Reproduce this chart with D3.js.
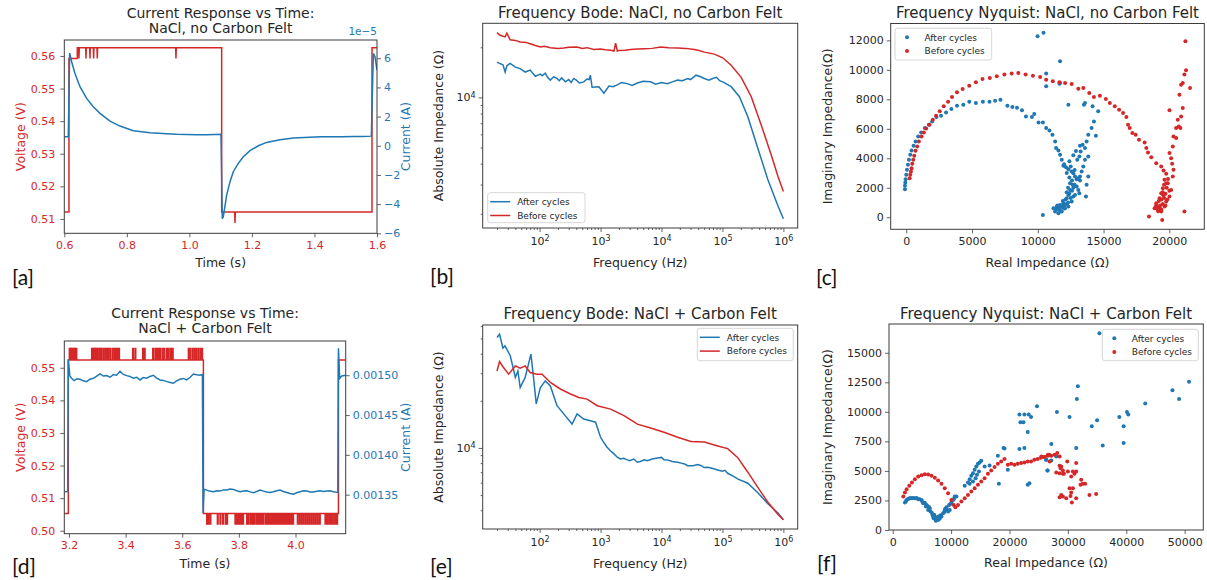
<!DOCTYPE html>
<html>
<head>
<meta charset="utf-8">
<script src="https://cdn.jsdelivr.net/npm/d3@7"></script>
<style>
  body { margin: 0; background: #fff; }
</style>
</head>
<body>
<svg id="fig" width="1207" height="580"></svg>
<script>
// ---------- values ----------

// [a] NaCl, no carbon felt : time (s), voltage (V) / current (A)
const aVoltage = [
  [0.6, 0.5121], [0.6149, 0.5121], [0.6149, 0.5592], [0.6416, 0.5592], [0.6416, 0.5625],
  [0.6459, 0.5625], [0.6469, 0.5592], [0.6479, 0.5625],
  [0.6683, 0.5625], [0.6693, 0.5592], [0.6703, 0.5625],
  [0.6811, 0.5625], [0.6821, 0.5592], [0.6831, 0.5625],
  [0.6928, 0.5625], [0.6938, 0.5592], [0.6948, 0.5625],
  [0.7045, 0.5625], [0.7055, 0.5592], [0.7065, 0.5625],
  [0.9561, 0.5625], [0.9571, 0.5592], [0.9581, 0.5625],
  [1.1032, 0.5625], [1.1032, 0.5121],
  [1.1448, 0.5121], [1.1458, 0.5088], [1.1468, 0.5121],
  [1.5840, 0.5121], [1.5840, 0.5625], [1.6, 0.5625]
]
const aCurrent = [
  [0.6, 0.62e-5], [0.6128, 0.62e-5], [0.6171, 6.35e-5], [0.6235, 5.76e-5], [0.6341, 4.96e-5],
  [0.6501, 4.05e-5], [0.6714, 3.25e-5], [0.6927, 2.67e-5], [0.7141, 2.22e-5], [0.7461, 1.69e-5],
  [0.7780, 1.35e-5], [0.8207, 1.03e-5], [0.8740, 0.89e-5], [0.9273, 0.82e-5], [0.9600, 0.79e-5],
  [0.9913, 0.78e-5], [1.0250, 0.76e-5], [1.0552, 0.75e-5], [1.0800, 0.77e-5], [1.1011, 0.78e-5],
  [1.1053, -5.0e-5], [1.1085, -4.87e-5], [1.1192, -3.38e-5],
  [1.1299, -2.47e-5], [1.1405, -1.78e-5], [1.1565, -1.21e-5], [1.1725, -0.75e-5], [1.1938, -0.34e-5],
  [1.2205, 0.0], [1.2471, 0.23e-5], [1.2898, 0.41e-5], [1.3324, 0.53e-5], [1.3857, 0.59e-5],
  [1.4200, 0.61e-5], [1.4603, 0.62e-5], [1.4900, 0.62e-5], [1.5243, 0.64e-5], [1.5550, 0.63e-5],
  [1.5819, 0.66e-5], [1.5883, 6.33e-5], [1.5936, 6.10e-5], [1.6, 5.19e-5]
]

// [d] NaCl + carbon felt
const dVoltage = [
  [3.1834, 0.5053], [3.1976, 0.5053], [3.1976, 0.5524], [3.6747, 0.5524],
  [3.6747, 0.5053], [4.1517, 0.5053], [4.1517, 0.5524], [4.1773, 0.5524]
]
const dLevels = { high: 0.5524, highSpike: 0.5559, low: 0.5053, lowSpike: 0.5021 }
const dFlickerUp = [
  3.2012, 3.2059, 3.2106, 3.2153, 3.2200, 3.2247, 3.2801, 3.2860, 3.2907, 3.2954, 3.3001,
  3.3060, 3.3095, 3.3142, 3.3213, 3.3272, 3.3331, 3.3390, 3.3449, 3.3531, 3.3590, 3.3649,
  3.3708, 3.3755, 3.4250, 3.4332, 3.4603, 3.4662, 3.4957, 3.5039, 3.5098, 3.5169, 3.5216,
  3.5298, 3.5357, 3.5451, 3.5510, 3.5592, 3.5651, 3.6217, 3.6276, 3.6358, 3.6429, 3.6488,
  3.6558, 3.6629, 3.6688
]
const dFlickerDown = [
  3.6865, 3.6923, 3.6982, 3.7241, 3.7336, 3.7430, 3.7524, 3.7571, 3.7866, 3.7925, 3.7995,
  3.8066, 3.8137, 3.8278, 3.8337, 3.8419, 3.8490, 3.8549, 3.8631, 3.8702, 3.8773, 3.8843,
  3.8926, 3.8985, 3.9055, 3.9126, 3.9197, 3.9267, 3.9338, 3.9409, 3.9479, 3.9550, 3.9621,
  3.9691, 3.9762, 3.9833, 3.9903, 4.0068, 4.0139, 4.0210, 4.0280, 4.0351, 4.0422, 4.0492,
  4.0563, 4.0634, 4.0704, 4.0775, 4.0846, 4.1046, 4.1105, 4.1176, 4.1246, 4.1317, 4.1388,
  4.1458
]
const dCurrent = [
  [3.1834, 0.0013537], [3.1953, 0.0013540], [3.1976, 0.0015200], [3.2030, 0.0014990],
  [3.2094, 0.0014962], [3.2177, 0.0014932], [3.2280, 0.0014955], [3.2389, 0.0014949],
  [3.2500, 0.0014930], [3.2624, 0.0014920], [3.2740, 0.0014950], [3.2860, 0.0014962],
  [3.2980, 0.0014990], [3.3095, 0.0015016], [3.3210, 0.0014990], [3.3331, 0.0014995],
  [3.3450, 0.0014975], [3.3567, 0.0015008], [3.3680, 0.0015000], [3.3802, 0.0015050],
  [3.3920, 0.0015010], [3.4038, 0.0014995], [3.4150, 0.0014985], [3.4273, 0.0014962],
  [3.4390, 0.0014975], [3.4509, 0.0014941], [3.4620, 0.0014970], [3.4744, 0.0014962],
  [3.4860, 0.0014985], [3.4980, 0.0015000], [3.5100, 0.0014965], [3.5216, 0.0014941],
  [3.5330, 0.0014935], [3.5451, 0.0014920], [3.5570, 0.0014910], [3.5687, 0.0014899],
  [3.5800, 0.0014930], [3.5922, 0.0014949], [3.6040, 0.0014960], [3.6158, 0.0014941],
  [3.6280, 0.0014975], [3.6393, 0.0015016], [3.6510, 0.0015005], [3.6629, 0.0015000],
  [3.6711, 0.0015008], [3.6735, 0.0013270], [3.6770, 0.0013566], [3.6806, 0.0013566],
  [3.6950, 0.0013545], [3.7100, 0.0013537], [3.7220, 0.0013550], [3.7336, 0.0013545],
  [3.7450, 0.0013560], [3.7571, 0.0013558], [3.7690, 0.0013570], [3.7807, 0.0013566],
  [3.7920, 0.0013550], [3.8042, 0.0013537], [3.8160, 0.0013545], [3.8278, 0.0013549],
  [3.8400, 0.0013535], [3.8514, 0.0013524], [3.8630, 0.0013540], [3.8749, 0.0013558],
  [3.8870, 0.0013545], [3.8985, 0.0013533], [3.9100, 0.0013528], [3.9220, 0.0013537],
  [3.9340, 0.0013550], [3.9456, 0.0013558], [3.9570, 0.0013540], [3.9691, 0.0013528],
  [3.9810, 0.0013515], [3.9927, 0.0013507], [4.0040, 0.0013525], [4.0163, 0.0013537],
  [4.0280, 0.0013548], [4.0398, 0.0013545], [4.0520, 0.0013535], [4.0634, 0.0013533],
  [4.0750, 0.0013542], [4.0869, 0.0013549], [4.0990, 0.0013540], [4.1105, 0.0013545],
  [4.1220, 0.0013550], [4.1340, 0.0013537], [4.1494, 0.0013528], [4.1517, 0.0015340],
  [4.1560, 0.0014960], [4.1635, 0.0014990], [4.1773, 0.0015000]
]

// [b] Bode, no carbon felt : frequency (Hz), |Z| (ohm)
const bodeNoFeltAfter = [
  [20, 16300], [22, 16000], [25, 15700], [27.2, 14200], [29, 15500], [32.8, 16000], [40, 15200],
  [48, 14900], [58, 14200], [70, 14600], [85, 13400], [103, 13800], [110, 13500], [124, 14000],
  [135, 13200], [150, 12700], [170, 13300], [193, 13000], [210, 12600], [230, 13100], [265, 12400],
  [300, 12800], [330, 12300], [363, 13000], [400, 12700], [450, 12200], [530, 12400], [600, 12900],
  [650, 12800], [680, 13600], [726, 11500], [940, 11600], [1135, 10600], [1373, 11700],
  [1600, 11600], [1884, 11900], [2200, 12300], [2748, 12100], [3300, 11800], [4020, 12200],
  [5000, 12500], [6640, 12400], [8000, 12000], [10000, 12300], [12500, 12100], [15000, 12400],
  [18400, 12700], [22000, 12600], [26900, 13000], [30000, 12800], [36900, 13600], [44000, 13300],
  [50500, 13000], [60000, 12700], [69300, 13000], [80000, 13200], [90000, 12600], [101000, 12400],
  [139000, 11600], [190000, 10100], [261000, 7660], [381000, 4950], [557000, 3200], [816000, 2230],
  [1000000, 1870]
]
const bodeNoFeltBefore = [
  [20, 24500], [22.5, 23600], [27.2, 23100], [29, 24300], [32.8, 22200], [40, 22000], [48, 21500],
  [60, 21400], [70, 21000], [85, 20500], [103, 20100], [120, 20300], [150, 19900], [200, 19700],
  [249, 19800], [300, 20000], [412, 20100], [500, 19700], [600, 19900], [776, 19400], [1000, 19500],
  [1200, 19300], [1462, 19200], [1660, 19000], [1766, 21200], [1883, 19000], [2004, 19100],
  [2500, 19200], [3124, 19400], [4000, 19500], [5176, 19600], [7000, 19700], [9750, 20100],
  [13000, 19900], [18400, 19800], [25000, 19700], [34500, 19400], [40000, 19200], [50500, 18700],
  [73800, 18200], [101000, 17300], [139000, 15600], [203000, 13200], [297000, 10100], [434000, 6800],
  [634000, 4500], [816000, 3350], [1000000, 2720]
]

// [e] Bode, carbon felt
const bodeFeltAfter = [
  [20, 50700], [22, 53200], [25, 43400], [27, 44900], [33, 38800], [40, 28200], [44, 31000],
  [48, 24300], [58, 28200], [72, 39700], [80, 27500], [88, 19100], [103, 24300], [124, 26800],
  [150, 24900], [193, 18600], [249, 16500], [341, 14200], [412, 16500], [530, 15300], [680, 14900],
  [829, 14600], [1000, 11700], [1100, 11000], [1280, 10100], [1450, 9600], [1660, 9160],
  [1900, 8700], [2130, 8510], [2400, 8600], [2748, 8390], [3000, 8300], [3500, 8500], [4020, 8100],
  [4500, 8200], [5200, 8400], [5880, 8300], [7000, 8500], [8600, 8630], [10000, 8700], [11000, 8400],
  [12500, 8390], [15000, 8200], [18400, 8100], [21000, 8000], [24000, 7900], [26900, 7710],
  [33000, 7700], [39300, 7830], [45000, 7700], [50000, 7500], [57500, 7520], [70000, 7400],
  [83600, 7240], [100000, 7100], [110000, 7200], [122000, 6890], [150000, 6600], [177000, 6350],
  [261000, 5950], [381000, 5180], [557000, 4400], [816000, 3840], [1000000, 3480]
]
const bodeFeltBefore = [
  [20, 31000], [22, 35600], [25, 33000], [31, 29600], [40, 33400], [48, 32300], [58, 33400],
  [70, 30300], [90, 29600], [110, 29600], [150, 26200], [219, 23800], [321, 22100], [440, 21000],
  [603, 20500], [881, 18600], [1462, 17700], [2420, 16100], [4020, 14200], [6640, 13400],
  [11000, 12600], [18400, 11700], [30400, 11000], [50500, 10900], [83600, 10300], [122000, 9900],
  [177000, 8700], [261000, 7000], [381000, 5600], [557000, 4500], [816000, 3760], [1000000, 3480]
]

// [c] Nyquist, no carbon felt : real (ohm), imaginary (ohm)
const nyqNoFeltAfter = [
  [-98, 1904], [-98, 2128], [-73, 2353], [-48, 2584], [2, 2876], [53, 3216], [129, 3556], [204, 3896],
  [305, 4236], [406, 4529], [557, 4848], [708, 5141], [910, 5481], [1136, 5753], [1414, 6052],
  [1716, 6276], [1968, 6501], [2296, 6800], [2648, 6888], [3026, 7113], [3430, 7344], [3858, 7568],
  [4337, 7636], [4791, 7840], [5294, 7752], [5824, 7840], [6328, 7840], [6756, 7908], [7159, 7976],
  [7688, 7568], [8066, 7480], [8420, 7432], [8798, 7251], [9100, 6841], [9553, 6798], [9730, 7002],
  [10057, 6435], [10385, 6435], [10637, 6050], [10889, 5891], [11115, 5596], [11317, 5143],
  [11393, 4690], [11569, 4531], [11695, 4236], [11822, 3896], [11947, 3488], [12149, 3398],
  [12325, 3262], [12502, 3443], [12577, 3103], [12703, 2990], [12829, 2763], [12955, 2582],
  [13081, 2650], [13207, 2491], [12653, 2196], [12451, 1856], [12325, 1516], [12199, 1290],
  [11947, 950], [11695, 836], [11443, 723], [11191, 610], [11317, 383], [11569, 270], [11822, 383],
  [12073, 610], [12325, 723], [12577, 1063], [12703, 1403], [12829, 1516], [12451, 2310],
  [12955, 2083], [13081, 1856], [13157, 1630], [11400, 500], [11600, 600], [11800, 700], [12000, 800],
  [12200, 900], [11900, 1100], [12100, 1200], [12300, 1000], [12500, 1300], [12400, 1600],
  [12600, 1800], [12200, 1700], [12000, 600], [11700, 450], [11500, 800], [12700, 2000], [12300, 2000],
  [12600, 2500], [12400, 2700], [12800, 3200], [12200, 3000], [12000, 3600], [12400, 3800],
  [13000, 3900], [12900, 4500], [12700, 4200], [12800, 2200], [13207, 2763], [13333, 3103],
  [13459, 3443], [13157, 4123], [13258, 4463], [13409, 4916], [13207, 4848], [13585, 4690],
  [13711, 5143], [13837, 5596], [13837, 4123], [13585, 3896], [14089, 6050], [14266, 6503],
  [14417, 5528], [14593, 7183], [14165, 7523], [13510, 7636], [13585, 7750], [12325, 7636],
  [10637, 9744], [10637, 8883], [10435, 12510], [9982, 12283], [11695, 10583], [11695, 9110],
  [11645, 9064], [13661, 1403], [13711, 2196], [13837, 2763], [10385, 156]
]
const nyqNoFeltBefore = [
  [255, 2652], [305, 2879], [355, 3103], [406, 3330], [456, 3624], [531, 3896], [607, 4168],
  [708, 4508], [834, 4803], [960, 5143], [1162, 5483], [1338, 5755], [1514, 6027], [1767, 6276],
  [2019, 6616], [2270, 6888], [2548, 7183], [2850, 7523], [3178, 7840], [3480, 8158], [3858, 8475],
  [4287, 8702], [4791, 8928], [5294, 9155], [5798, 9382], [6353, 9450], [6882, 9563], [7462, 9676],
  [8016, 9744], [8520, 9790], [9074, 9676], [9629, 9608], [10183, 9518], [10637, 9336],
  [11141, 9223], [11645, 9155], [12073, 9110], [12577, 9042], [13081, 8724], [13459, 8770],
  [13913, 8430], [14266, 8158], [14719, 8248], [15173, 8022], [15476, 7750], [15854, 7523],
  [16181, 7296], [16484, 7070], [16736, 6798], [16862, 6276], [16988, 6050], [17189, 5710],
  [17441, 5596], [17693, 5256], [18122, 5075], [18248, 4690], [18374, 4395], [18626, 4078],
  [19004, 3670], [19382, 3443], [19559, 3171], [19760, 2944], [19634, 2536], [19760, 2310],
  [19508, 1970], [19382, 1630], [19256, 1290], [19004, 950], [18878, 610], [19130, 496],
  [19382, 383], [19634, 723], [19760, 1063], [20012, 1403], [20138, 1856], [19886, 2310],
  [20264, 2763], [20315, 3216], [20214, 3624], [20138, 4010], [20012, 4350], [20264, 4803],
  [20315, 5483], [20516, 6050], [20718, 6163], [20844, 6050], [20642, 6616], [20894, 6843],
  [21020, 7410], [20768, 8316], [20894, 8996], [21020, 9110], [21146, 9676], [21272, 9971],
  [21222, 11943], [21574, 8770], [21146, 383], [19458, -184], [18450, 43], [20012, 7251],
  [20516, 5370], [19100, 700], [19300, 800], [19500, 900], [19200, 1100], [19400, 1200],
  [19600, 1300], [19300, 600], [19700, 1600], [19500, 1700], [19800, 2000], [19600, 2200],
  [19900, 2600], [19400, 500], [19150, 400], [19550, 1500], [19700, 800], [19850, 1200],
  [20000, 1800], [19000, 800], [18950, 650]
]

// [f] Nyquist, carbon felt
const nyqFeltAfter = [
  [2097, 2320], [2300, 2450], [2381, 2547], [2600, 2620], [2836, 2660], [3000, 2700], [3291, 2689],
  [3500, 2700], [3802, 2689], [4100, 2700], [4370, 2604], [4600, 2600], [4939, 2547], [5000, 2450],
  [5223, 2264], [5500, 2300], [5678, 1981], [5792, 2123], [5900, 2050], [6075, 1698], [6200, 1950],
  [6360, 1840], [6473, 1556], [6700, 1450], [6814, 1274], [6928, 1132], [7000, 1000], [7100, 1300],
  [7212, 1132], [7300, 950], [7383, 792], [7496, 906], [7600, 1000], [7780, 849], [7800, 1150],
  [7951, 1075], [8064, 962], [8200, 1250], [8349, 1132], [8633, 1415], [8800, 1500], [8917, 1698],
  [9000, 1800], [9201, 1924], [9300, 1700], [9485, 1556], [9656, 2123], [9770, 1698], [9900, 2200],
  [10054, 2320], [10338, 2547], [10500, 2650], [10622, 2830], [10907, 2830],
  [12327, 3736], [12895, 4018], [13180, 4302], [13464, 4585], [13748, 4811], [14032, 5094],
  [14316, 5377], [14600, 5603], [14884, 5717], [15169, 5858], [13180, 3905], [13748, 4103],
  [14203, 4387], [14429, 4670], [14771, 4952], [15737, 5377], [16590, 5462], [18010, 6283],
  [18181, 3905], [18977, 6934], [19147, 6905], [19715, 5094], [21705, 6849], [22557, 6934],
  [21875, 9112], [22386, 9112], [21705, 9764], [22557, 9764], [23295, 9764], [23694, 9565],
  [23125, 8292], [24717, 10471], [23409, 3962], [23125, 3821], [26252, 5943], [26535, 5037],
  [35401, 16640], [31707, 12169], [31537, 11094], [28127, 9990], [30286, 9565], [34095, 8773],
  [35004, 9282], [38810, 9565], [40119, 9990], [40346, 9764], [39551, 8773], [39551, 7358],
  [35970, 7160], [31423, 6934], [27161, 7273], [28013, 6226], [26308, 5943], [27161, 5886],
  [26478, 5037], [43244, 10697], [47905, 11829], [49041, 11094], [50746, 12537]
]
const nyqFeltBefore = [
  [1812, 2830], [2097, 3169], [2381, 3453], [2836, 3736], [3291, 4018], [3802, 4302], [4370, 4528],
  [4939, 4641], [5507, 4726], [6075, 4698], [6644, 4585], [7212, 4415], [7780, 4188], [8349, 3905],
  [8917, 3538], [9485, 3113], [10054, 2547], [10452, 2123], [10736, 1924], [11190, 2123],
  [11759, 2405], [12327, 2689], [12895, 2972], [13464, 3254], [14032, 3538], [14600, 3821],
  [15169, 4103], [15737, 4387], [16305, 4754], [16874, 5037], [17442, 5321], [18010, 5603],
  [18579, 5801], [19147, 6000], [19715, 5519], [20284, 5603], [20852, 5519], [21420, 5603],
  [21989, 5660], [22557, 5717], [23125, 5801], [23694, 5801], [24262, 5943], [24830, 6000],
  [25399, 6113], [25967, 6170], [26535, 6283], [26819, 6368],
  [25456, 6226], [26024, 6170], [26592, 6368], [27161, 6283], [27729, 6368], [28184, 6509],
  [28582, 6226], [26877, 5801], [28582, 5434], [28752, 5235], [29150, 5037], [29889, 5801],
  [30002, 4952], [30855, 4952], [31139, 4754], [31423, 5660], [30571, 4528], [28013, 4867],
  [28582, 4811], [29150, 4754], [32276, 4245], [32560, 3905], [32958, 3905], [32162, 3821],
  [30287, 3538], [30855, 3538], [30571, 3169], [30457, 2887], [30684, 2320], [28866, 2972],
  [29150, 2830], [28582, 2773], [29718, 2689], [31423, 2689], [33697, 2972], [34833, 3056],
  [29321, 4754], [28866, 5377], [31423, 4952]
]

const seriesNames = ["After cycles", "Before cycles"]

// ---------- drawing ----------
const svg = d3.select("#fig")
const red = "#d62728", blue = "#1f77b4", ink = "#262626", spine = "#3c3c3c"
const font = "DejaVu Sans"
let clipCount = 0

function styleAxis(sel, color) {
  sel.attr("font-family", font).attr("font-size", 11)
  sel.select(".domain").remove()
  sel.selectAll(".tick line").attr("stroke", spine).attr("stroke-width", 0.8)
  sel.selectAll(".tick text").attr("fill", color)
}

function plotArea(box) {
  const [x0, y0, x1, y1] = box
  const id = "clip" + clipCount++
  svg.append("clipPath").attr("id", id).append("rect")
    .attr("x", x0).attr("y", y0).attr("width", x1 - x0).attr("height", y1 - y0)
  return svg.append("g").attr("clip-path", `url(#${id})`)
}

function frame(box) {
  const [x0, y0, x1, y1] = box
  svg.append("rect").attr("x", x0).attr("y", y0).attr("width", x1 - x0).attr("height", y1 - y0)
    .attr("fill", "none").attr("stroke", spine).attr("stroke-width", 1)
}

function addText(x, y, str, opts) {
  return svg.append("text").attr("x", x).attr("y", y)
    .attr("font-family", opts.family || font).attr("font-size", opts.size)
    .attr("fill", opts.color || ink).attr("text-anchor", opts.anchor || "middle")
    .text(str)
}

function yLabel(str, x, cy, color) {
  svg.append("text").attr("transform", `translate(${x},${cy}) rotate(-90)`)
    .attr("text-anchor", "middle").attr("font-family", font).attr("font-size", 12.5)
    .attr("fill", color || ink).text(str)
}

function powerLabels(sel) {
  sel.selectAll(".tick text").each(function (d) {
    const t = d3.select(this).text("")
    t.append("tspan").text("10")
    t.append("tspan").attr("dy", "-0.45em").attr("font-size", 8).text(Math.round(Math.log10(d)))
  })
}

function legend(x, y, w, h, kind) {
  svg.append("rect").attr("x", x).attr("y", y).attr("width", w).attr("height", h).attr("rx", 2.5)
    .attr("fill", "#fff").attr("fill-opacity", 0.8).attr("stroke", "#cccccc").attr("stroke-width", 0.8)
  seriesNames.forEach((name, i) => {
    const cy = y + 9 + i * 13.8
    const c = i === 0 ? blue : red
    if (kind === "line") {
      svg.append("line").attr("x1", x + 2.5).attr("x2", x + 22.5).attr("y1", cy).attr("y2", cy)
        .attr("stroke", c).attr("stroke-width", 1.5)
    } else {
      svg.append("circle").attr("cx", x + 12).attr("cy", cy).attr("r", 2).attr("fill", c)
    }
    addText(x + 29.5, cy + 3.3, name, { size: 9, anchor: "start" })
  })
}

// time panels (voltage left axis, current right axis)
function timePanel(box, cfg) {
  const [x0, y0, x1, y1] = box
  const x = d3.scaleLinear().domain(cfg.xDomain).range([x0, x1])
  const yV = d3.scaleLinear().domain(cfg.vDomain).range([y1, y0])
  const yI = d3.scaleLinear().domain(cfg.iDomain).range([y1, y0])
  const g = plotArea(box)

  g.append("path").datum(cfg.voltage)
    .attr("d", d3.line().x(d => x(d[0])).y(d => yV(d[1])))
    .attr("fill", "none").attr("stroke", red).attr("stroke-width", 1.5)

  // short voltage flickers between two quantised levels
  ;(cfg.pulses || []).forEach(p => {
    p.times.forEach(t => {
      const pts = [[t, p.base], [t, p.peak], [t + 0.0025, p.peak], [t + 0.0025, p.base]]
      g.append("path").datum(pts)
        .attr("d", d3.line().x(d => x(d[0])).y(d => yV(d[1])))
        .attr("fill", "none").attr("stroke", red).attr("stroke-width", 1.5)
    })
  })

  g.append("path").datum(cfg.current)
    .attr("d", d3.line().x(d => x(d[0])).y(d => yI(d[1])))
    .attr("fill", "none").attr("stroke", blue).attr("stroke-width", 1.5)

  svg.append("g").attr("transform", `translate(0,${y1})`)
    .call(d3.axisBottom(x).tickValues(cfg.xTicks).tickFormat(d3.format(".1f")).tickSize(4).tickPadding(4))
    .call(styleAxis, red)
  svg.append("g").attr("transform", `translate(${x0},0)`)
    .call(d3.axisLeft(yV).tickValues(cfg.vTicks).tickFormat(d3.format(".2f")).tickSize(4).tickPadding(5))
    .call(styleAxis, red)
  svg.append("g").attr("transform", `translate(${x1},0)`)
    .call(d3.axisRight(yI).tickValues(cfg.iTicks).tickFormat(cfg.iFormat).tickSize(4).tickPadding(3))
    .call(styleAxis, blue)
  frame(box)
}

function bodePanel(box, cfg) {
  const [x0, y0, x1, y1] = box
  const after = cfg.after.slice().sort((a, b) => a[0] - b[0])
  const before = cfg.before.slice().sort((a, b) => a[0] - b[0])
  const allF = after.concat(before).map(d => d[0])
  const allZ = after.concat(before).map(d => d[1])
  const pad = (lo, hi) => {
    const a = Math.log10(lo), b = Math.log10(hi), m = (b - a) * 0.05
    return [Math.pow(10, a - m), Math.pow(10, b + m)]
  }
  const x = d3.scaleLog().domain(pad(d3.min(allF), d3.max(allF))).range([x0, x1])
  const y = d3.scaleLog().domain(pad(d3.min(allZ), d3.max(allZ))).range([y1, y0])
  const g = plotArea(box)
  const line = d3.line().x(d => x(d[0])).y(d => y(d[1]))
  g.append("path").datum(after).attr("d", line).attr("fill", "none").attr("stroke", blue).attr("stroke-width", 1.5)
  g.append("path").datum(before).attr("d", line).attr("fill", "none").attr("stroke", red).attr("stroke-width", 1.5)

  const isPow = v => Math.abs(Math.log10(v) - Math.round(Math.log10(v))) < 1e-9
  const xMajor = x.ticks().filter(isPow), xMinor = x.ticks().filter(v => !isPow(v))
  const yMajor = y.ticks().filter(isPow), yMinor = y.ticks().filter(v => !isPow(v))

  svg.append("g").attr("transform", `translate(0,${y1})`)
    .call(d3.axisBottom(x).tickValues(xMinor).tickFormat("").tickSize(2))
    .call(styleAxis, ink)
  svg.append("g").attr("transform", `translate(0,${y1})`)
    .call(d3.axisBottom(x).tickValues(xMajor).tickSize(4).tickPadding(5))
    .call(styleAxis, ink).call(powerLabels)
  svg.append("g").attr("transform", `translate(${x0},0)`)
    .call(d3.axisLeft(y).tickValues(yMinor).tickFormat("").tickSize(2))
    .call(styleAxis, ink)
  svg.append("g").attr("transform", `translate(${x0},0)`)
    .call(d3.axisLeft(y).tickValues(yMajor).tickSize(4).tickPadding(3))
    .call(styleAxis, ink).call(powerLabels)
  frame(box)
}

function nyquistPanel(box, cfg) {
  const [x0, y0, x1, y1] = box
  const all = cfg.after.concat(cfg.before)
  const pad = (lo, hi) => { const m = (hi - lo) * 0.05; return [lo - m, hi + m] }
  const x = d3.scaleLinear().domain(pad(d3.min(all, d => d[0]), d3.max(all, d => d[0]))).range([x0, x1])
  const y = d3.scaleLinear().domain(pad(d3.min(all, d => d[1]), d3.max(all, d => d[1]))).range([y1, y0])
  const g = plotArea(box)
  g.selectAll(".after").data(cfg.after).enter().append("circle")
    .attr("cx", d => x(d[0])).attr("cy", d => y(d[1])).attr("r", 2).attr("fill", blue)
  g.selectAll(".before").data(cfg.before).enter().append("circle")
    .attr("cx", d => x(d[0])).attr("cy", d => y(d[1])).attr("r", 2).attr("fill", red)

  svg.append("g").attr("transform", `translate(0,${y1})`)
    .call(d3.axisBottom(x).tickValues(cfg.xTicks).tickFormat(d3.format("d")).tickSize(4).tickPadding(4))
    .call(styleAxis, ink)
  svg.append("g").attr("transform", `translate(${x0},0)`)
    .call(d3.axisLeft(y).tickValues(cfg.yTicks).tickFormat(d3.format("d")).tickSize(4).tickPadding(3))
    .call(styleAxis, ink)
  frame(box)
}

// ---- panel [a]
const boxA = [64.3, 40, 377, 233.3]
timePanel(boxA, {
  xDomain: [0.6, 1.6], vDomain: [0.5056, 0.5649], iDomain: [-6.0e-5, 7.25e-5],
  voltage: aVoltage, current: aCurrent,
  xTicks: [0.6, 0.8, 1.0, 1.2, 1.4, 1.6],
  vTicks: [0.51, 0.52, 0.53, 0.54, 0.55, 0.56],
  iTicks: [-6e-5, -4e-5, -2e-5, 0, 2e-5, 4e-5, 6e-5],
  iFormat: d => d3.format("d")(Math.round(d * 1e5))
})
addText(220.6, 18, "Current Response vs Time:", { size: 14 })
addText(220.6, 33.3, "NaCl, no Carbon Felt", { size: 14 })
addText(377, 35, "1e\u22125", { size: 10.5, anchor: "end", color: blue })
addText(220.6, 266.5, "Time (s)", { size: 12.5 })
yLabel("Voltage (V)", 24.5, 136.6, red)
yLabel("Current (A)", 410, 136.6, blue)

// ---- panel [d]
const boxD = [64.3, 341, 345.7, 533.7]
timePanel(boxD, {
  xDomain: [3.1834, 4.1773], vDomain: [0.4991, 0.5582], iDomain: [0.001301, 0.001543],
  voltage: dVoltage, current: dCurrent,
  pulses: [
    { times: dFlickerUp, base: dLevels.high, peak: dLevels.highSpike },
    { times: dFlickerDown, base: dLevels.low, peak: dLevels.lowSpike }
  ],
  xTicks: [3.2, 3.4, 3.6, 3.8, 4.0],
  vTicks: [0.50, 0.51, 0.52, 0.53, 0.54, 0.55],
  iTicks: [0.00135, 0.0014, 0.00145, 0.0015],
  iFormat: d3.format(".5f")
})
addText(205, 318.3, "Current Response vs Time:", { size: 14 })
addText(205, 333.3, "NaCl + Carbon Felt", { size: 14 })
addText(205, 568, "Time (s)", { size: 12.5 })
yLabel("Voltage (V)", 24.5, 437.3, red)
yLabel("Current (A)", 410, 437.3, blue)

// ---- panel [b]
const boxB = [482.7, 23.3, 797.7, 228]
bodePanel(boxB, { after: bodeNoFeltAfter, before: bodeNoFeltBefore })
addText(640.2, 18.3, "Frequency Bode: NaCl, no Carbon Felt", { size: 15 })
addText(640.2, 266.5, "Frequency (Hz)", { size: 12.5 })
yLabel("Absolute Impedance (\u03a9)", 442.5, 125.6)
legend(487.7, 192.7, 97.3, 30, "line")

// ---- panel [e]
const boxE = [482.7, 325, 797.7, 529]
bodePanel(boxE, { after: bodeFeltAfter, before: bodeFeltBefore })
addText(640.2, 319.3, "Frequency Bode: NaCl + Carbon Felt", { size: 15 })
addText(640.2, 568, "Frequency (Hz)", { size: 12.5 })
yLabel("Absolute Impedance (\u03a9)", 442.5, 427)
legend(697.3, 328.3, 96, 32.4, "line")

// ---- panel [c]
const boxC = [890.7, 23.5, 1204.3, 229.3]
nyquistPanel(boxC, {
  after: nyqNoFeltAfter, before: nyqNoFeltBefore,
  xTicks: [0, 5000, 10000, 15000, 20000],
  yTicks: [0, 2000, 4000, 6000, 8000, 10000, 12000]
})
addText(1047.5, 18.3, "Frequency Nyquist: NaCl, no Carbon Felt", { size: 15 })
addText(1047.5, 266.5, "Real Impedance (\u03a9)", { size: 12.5 })
yLabel("Imaginary Impedance(\u03a9)", 832, 126.4)
legend(895, 28.3, 96.7, 31.7, "dot")

// ---- panel [f]
const boxF = [889, 324, 1203.3, 530]
nyquistPanel(boxF, {
  after: nyqFeltAfter, before: nyqFeltBefore,
  xTicks: [0, 10000, 20000, 30000, 40000, 50000],
  yTicks: [0, 2500, 5000, 7500, 10000, 12500, 15000]
})
addText(1046, 319.3, "Frequency Nyquist: NaCl + Carbon Felt", { size: 15 })
addText(1046, 566.5, "Real Impedance (\u03a9)", { size: 12.5 })
yLabel("Imaginary Impedance(\u03a9)", 831.5, 427)
legend(1102.3, 329.3, 96, 31.4, "dot")

// ---- panel letters
const letters = [["[a]", 12, 285], ["[b]", 430, 284], ["[c]", 816, 285],
                 ["[d]", 12, 574], ["[e]", 430, 574], ["[f]", 817, 571]]
letters.forEach(([s, x, y]) => addText(x, y, s, { size: 21, anchor: "start", color: "#111", family: "Lato" }))
</script>
</body>
</html>
